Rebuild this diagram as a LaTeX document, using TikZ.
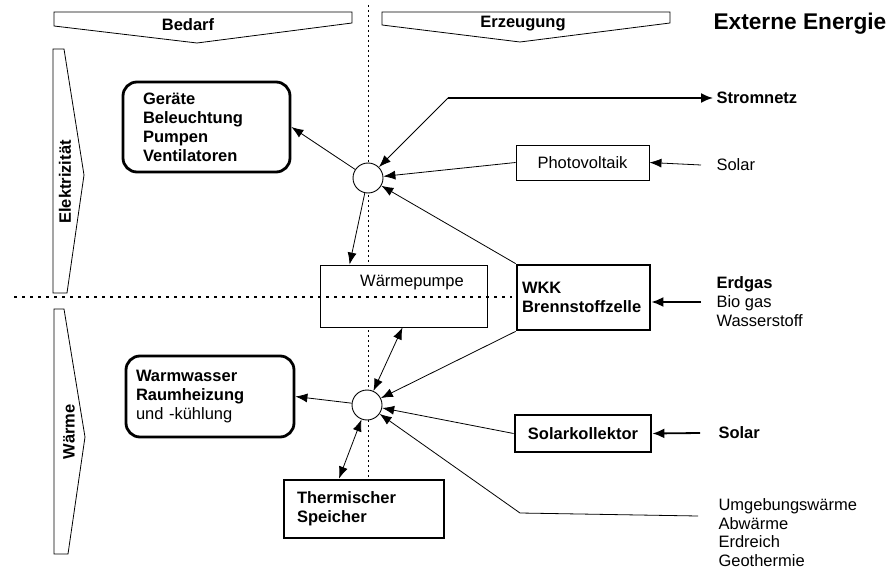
\documentclass[tikz,border=0pt]{standalone}
\usepackage{fontspec}
\setmainfont{Liberation Sans}
\usetikzlibrary{arrows.meta}
\newcommand{\groesse}{\fontsize{16.5}{19}\selectfont}

\begin{document}
\begin{tikzpicture}[x=1pt,y=-1pt,font=\groesse,
  pfeil/.style={-{Latex[length=12pt,width=9pt]},line width=0.8pt},
  doppelpfeil/.style={{Latex[length=12pt,width=9pt]}-{Latex[length=12pt,width=9pt]},line width=0.8pt},
  dickpfeil/.style={-{Latex[length=12pt,width=10pt]},line width=1.8pt},
  kasten/.style={draw,line width=0.9pt,fill=white},
  dickkasten/.style={draw,line width=2.8pt,fill=white,align=left},
  rundkasten/.style={dickkasten,rounded corners=14pt},
  knoten/.style={circle,draw,line width=0.9pt,fill=white,minimum size=30pt,inner sep=0pt},
  fett/.style={font=\groesse\bfseries}]
\useasboundingbox (0,0) rectangle (888,569);

% Kopf und Seitenbalken
\draw[line width=0.8pt] (54,12) -- (352,12) -- (352,23) -- (197,43) -- (54,26) -- cycle;
\node[fett] (bedarf) at (188,25) {Bedarf};
\draw[line width=0.8pt] (382,12) -- (670,12) -- (670,23) -- (520,42) -- (382,25) -- cycle;
\node[fett] (erzeugung) at (523,24) {Erzeugung};
\node[anchor=west,font=\fontsize{22.7}{26}\selectfont\bfseries] (extern) at (710,24) {Externe Energie};

\draw[line width=0.8pt] (53,49) -- (64,49) -- (84,175) -- (67,293) -- (53,293) -- cycle;
\node[fett,rotate=90] (elektro) at (65,182) {Elektrizität};
\draw[line width=0.8pt] (54,309) -- (64,309) -- (85,437) -- (68,554) -- (54,554) -- cycle;
\node[fett,rotate=90] (waerme) at (69,432) {Wärme};

\draw[dash pattern=on 2pt off 3pt,line width=0.8pt] (368,5) -- (368,480);

% Kaesten
\node[rundkasten,fett,minimum width=167pt,minimum height=90pt,text width=127pt,inner xsep=20pt] (geraete) at (206.5,127)
  {Geräte\\Beleuchtung\\Pumpen\\Ventilatoren};
\node[rundkasten,minimum width=168pt,minimum height=81pt,text width=148pt,inner xsep=10pt] (warmwasser) at (210,396.5)
  {\textbf{Warmwasser}\\\textbf{Raumheizung}\\und -kühlung};
\node[kasten,minimum width=167pt,minimum height=62pt,label={[xshift=8.5pt,yshift=13pt]center:Wärmepumpe}] (wp) at (403.5,296) {};
\node[dickkasten,fett,minimum width=133pt,minimum height=65pt,text width=123pt,inner xsep=5pt] (wkk) at (583.5,297.5)
  {WKK\\Brennstoffzelle};
\node[kasten,minimum width=133pt,minimum height=35pt] (pv) at (582.5,162.5) {Photovoltaik};
\node[dickkasten,fett,minimum width=136pt,minimum height=37pt] (sk) at (583,433.5) {Solarkollektor};
\node[dickkasten,fett,minimum width=160pt,minimum height=58pt,text width=134pt,inner xsep=13pt] (speicher) at (364,509)
  {Thermischer\\Speicher};
\node[knoten] (elknoten) at (368,178) {};
\node[knoten] (wknoten) at (367,405) {};

\draw[dash pattern=on 3pt off 5pt,line width=1.5pt] (14,297) -- (512,297);

% externe Energie
\node[fett,anchor=west] (stromnetz) at (713,98) {Stromnetz};
\node[anchor=west] (solar) at (713,165) {Solar};
\node[anchor=west,align=left] (gas) at (713,302) {\textbf{Erdgas}\\Bio gas\\Wasserstoff};
\node[fett,anchor=west] (solarw) at (715,433) {Solar};
\node[anchor=west,align=left,inner ysep=0pt,font=\fontsize{16.5}{18.5}\selectfont] (umgebung) at (715,532.5) {Umgebungswärme\\Abwärme\\Erdreich\\Geothermie};
\coordinate (netzknick) at (448,98);
\coordinate (umgende) at (698,516);
\coordinate (umgknick) at (520,513);

% Pfeile Elektrizitaet
\draw[pfeil] (netzknick) -- (elknoten);
\draw[dickpfeil] (netzknick) -- (stromnetz.west);
\draw[pfeil] (pv.west) -- (elknoten);
\draw[pfeil] (wkk.north west) -- (elknoten);
\draw[pfeil] (elknoten) -- (geraete.east);
\draw[pfeil] (elknoten) -- ([xshift=30pt]wp.north west);
\draw[pfeil] ([xshift=-12pt]solar.west) -- (pv.east);
\draw[dickpfeil] ([xshift=-12pt]gas.west) -- (gas.west -| wkk.east);

% Pfeile Waerme
\draw[doppelpfeil] (wknoten) -- ([xshift=-1pt]wp.south);
\draw[pfeil] (wkk.south west) -- (wknoten);
\draw[pfeil] (sk.west) -- (wknoten);
\draw[pfeil] (umgende) -- (umgknick) -- (wknoten);
\draw[doppelpfeil] (wknoten) -- ([xshift=-25pt]speicher.north);
\draw[pfeil] (wknoten) -- (warmwasser.east);
\draw[dickpfeil] ([xshift=-15pt]solarw.west) -- (sk.east);
\end{tikzpicture}
\end{document}
